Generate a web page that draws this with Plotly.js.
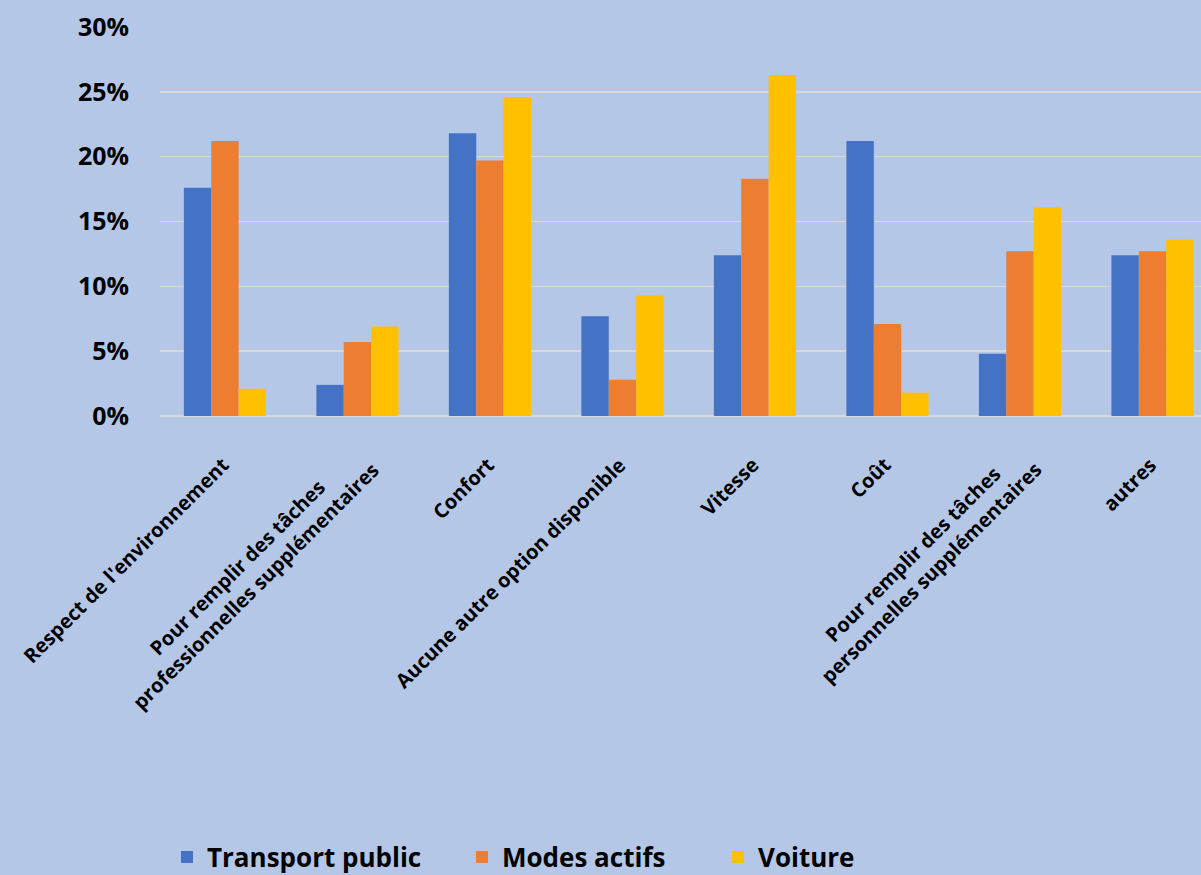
<!DOCTYPE html>
<html>
<head>
<meta charset="utf-8">
<script src="https://cdn.plot.ly/plotly-3.0.1.min.js"></script>
<style>html,body{margin:0;padding:0;background:#B4C7E7;overflow:hidden;}</style>
</head>
<body>
<div id="chart" style="width:1201px;height:875px;"></div>
<script>
const categories = [
  "Respect de l'environnement",
  "Pour remplir des tâches<br>professionnelles supplémentaires",
  "Confort",
  "Aucune autre option disponible",
  "Vitesse",
  "Coût",
  "Pour remplir des tâches<br>personnelles supplémentaires",
  "autres"
];
const transportPublic = [17.6, 2.4, 21.8, 7.7, 12.4, 21.2, 4.8, 12.4];
const modesActifs = [21.2, 5.7, 19.7, 2.8, 18.3, 7.1, 12.7, 12.7];
const voiture = [2.1, 6.9, 24.6, 9.3, 26.3, 1.8, 16.1, 13.6];
const seriesNames = ["Transport public", "Modes actifs", "Voiture"];
const yTicks = [0, 5, 10, 15, 20, 25, 30];
const yTickLabels = ["0%", "5%", "10%", "15%", "20%", "25%", "30%"];

const colors = ["#4472C4", "#ED7D31", "#FFC000"];
const legendIds = ["legend", "legend2", "legend3"];
const legendX = [167, 462, 718];
const font = {family: "Open Sans, sans-serif", color: "#000000", weight: "bold"};

const data = [transportPublic, modesActifs, voiture].map((vals, k) => ({
  type: "bar",
  name: seriesNames[k],
  legend: legendIds[k],
  x: categories,
  y: vals,
  marker: {color: colors[k]},
  hoverinfo: "none"
}));

const annotations = categories.map(c => {
  const multi = c.indexOf("<br>") >= 0;
  return {
    x: c, xref: "x", y: 0, yref: "paper",
    yshift: multi ? -19 : -33, xshift: multi ? 30 : 12,
    xanchor: "right", yanchor: "top",
    text: c, textangle: -45, showarrow: false, align: "center",
    font: Object.assign({size: 20}, font)
  };
});

const layout = {
  width: 1201, height: 875,
  paper_bgcolor: "#B4C7E7", plot_bgcolor: "#B4C7E7",
  margin: {l: 160, r: 0, t: 27, b: 459},
  barmode: "group", bargap: 0.38, bargroupgap: 0,
  xaxis: {
    type: "category", range: [-0.49, 7.366],
    showticklabels: false, showgrid: false, zeroline: false, showline: false, ticks: ""
  },
  yaxis: {
    range: [0, 30], tickmode: "array", tickvals: yTicks, ticktext: yTickLabels,
    showgrid: true, gridcolor: "#D9D9D9", gridwidth: 1.6,
    zeroline: true, zerolinecolor: "#D9D9D9", zerolinewidth: 1.6,
    showline: false, ticks: "", ticklabelstandoff: 30,
    tickfont: Object.assign({size: 25}, font)
  },
  showlegend: true,
  annotations: annotations
};
legendIds.forEach((id, k) => {
  layout[id] = {
    orientation: "h", xref: "container", yref: "container",
    x: legendX[k] / 1201, xanchor: "left", y: 0.0206, yanchor: "middle",
    font: Object.assign({size: 26}, font),
    bgcolor: "rgba(0,0,0,0)"
  };
});

Plotly.newPlot("chart", data, layout, {staticPlot: true, displayModeBar: false});
</script>
</body>
</html>
